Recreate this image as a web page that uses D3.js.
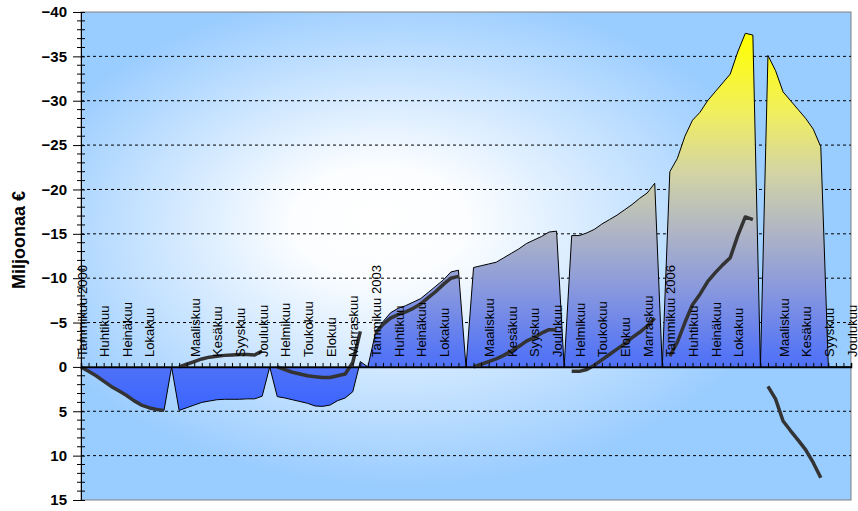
<!DOCTYPE html>
<html>
<head>
<meta charset="utf-8">
<script src="https://cdn.jsdelivr.net/npm/d3@7/dist/d3.min.js"></script>
<style>
  body { margin: 0; background: #fff; }
  text { font-family: Arial, "Liberation Sans", sans-serif; }
</style>
</head>
<body>
<div id="chart"></div>
<script>
// month names and years of the category axis
const months = ["Tammikuu", "Helmikuu", "Maaliskuu", "Huhtikuu", "Toukokuu", "Kesäkuu",
                "Heinäkuu", "Elokuu", "Syyskuu", "Lokakuu", "Marraskuu", "Joulukuu"];
const years = [2000, 2001, 2002, 2003, 2004, 2005, 2006, 2007];

// area series, one row per year (million €, negative drawn upward)
const areaByYear = [
  [0, 0.5, 1.0, 1.6, 2.2, 2.7, 3.2, 3.8, 4.3, 4.6, 4.8, 4.9],
  [4.9, 4.6, 4.3, 4.0, 3.85, 3.7, 3.65, 3.65, 3.65, 3.6, 3.6, 3.3],
  [3.35, 3.5, 3.7, 3.9, 4.1, 4.4, 4.45, 4.3, 3.8, 3.5, 2.8, -0.6],
  [-3.8, -5.1, -6.1, -6.6, -6.9, -7.3, -7.7, -8.4, -9.1, -9.8, -10.7, -10.9],
  [-11.2, -11.4, -11.6, -11.8, -12.3, -12.8, -13.3, -13.9, -14.3, -14.7, -15.2, -15.3],
  [-14.8, -14.8, -15.1, -15.5, -16.1, -16.6, -17.1, -17.7, -18.3, -19.0, -19.6, -20.7],
  [-22.0, -23.5, -26.0, -27.8, -28.7, -30.0, -31.0, -32.0, -33.0, -35.5, -37.6, -37.4],
  [-35.1, -33.4, -31.0, -30.0, -29.0, -28.0, -26.8, -24.8]
];

// line series, one row per year
const lineByYear = [
  [0, 0.5, 1.0, 1.6, 2.2, 2.7, 3.2, 3.8, 4.3, 4.6, 4.8, 4.9],
  [0, -0.3, -0.6, -0.9, -1.1, -1.2, -1.3, -1.35, -1.4, -1.4, -1.35, -1.8],
  [0, 0.3, 0.6, 0.8, 1.0, 1.1, 1.2, 1.2, 1.0, 0.8, -0.5, -4.0],
  [-3.8, -4.8, -5.5, -5.9, -6.2, -6.6, -7.1, -7.8, -8.5, -9.3, -10.0, -10.2],
  [0, -0.3, -0.6, -0.9, -1.3, -1.8, -2.3, -2.9, -3.3, -3.8, -4.2, -4.2],
  [0.5, 0.5, 0.3, -0.2, -0.8, -1.4, -2.0, -2.6, -3.3, -3.9, -4.6, -5.5],
  [-1.2, -2.8, -5.0, -7.0, -8.2, -9.6, -10.6, -11.5, -12.3, -14.8, -16.9, -16.6],
  [2.2, 3.6, 6.1, 7.2, 8.25, 9.35, 10.8, 12.5]
];

const yTicks = [-40, -35, -30, -25, -20, -15, -10, -5, 0, 5, 10, 15];

// build the category list: 12 months per year plus an empty gap slot between years
const data = [];
years.forEach((yr, yi) => {
  months.forEach((m, mi) => {
    data.push({
      label: mi === 0 ? m + " " + yr : m,
      area: areaByYear[yi][mi] ?? 0,
      line: lineByYear[yi][mi] ?? null
    });
  });
  if (yi < years.length - 1) data.push({ label: "", area: 0, line: null });
});

const W = 858, H = 511;
const margin = { top: 12, right: 7, bottom: 11, left: 81 };

const svg = d3.select("#chart").append("svg")
  .attr("width", W)
  .attr("height", H);

const x = d3.scaleLinear().domain([0, data.length - 1]).range([margin.left, W - margin.right]);
const y = d3.scaleLinear().domain([-40, 15]).range([margin.top, H - margin.bottom]);

const defs = svg.append("defs");

// plot background, light in the middle, blue at the edges
const bg = defs.append("radialGradient")
  .attr("id", "bg")
  .attr("cx", 0.42).attr("cy", 0.47).attr("r", 0.58)
  .attr("fx", 0.38).attr("fy", 0.42);
bg.append("stop").attr("offset", "0").attr("stop-color", "#ffffff");
bg.append("stop").attr("offset", "0.2").attr("stop-color", "#fbfdff");
bg.append("stop").attr("offset", "0.88").attr("stop-color", "#99ccff");
bg.append("stop").attr("offset", "1").attr("stop-color", "#99ccff");

// area fill, yellow at the top to blue at the bottom
const fill = defs.append("linearGradient")
  .attr("id", "areaFill")
  .attr("gradientUnits", "userSpaceOnUse")
  .attr("x1", 0).attr("x2", 0)
  .attr("y1", y(-37.6)).attr("y2", y(5));
[[0, "#ffff00"], [0.2, "#f2f05a"], [0.37, "#d2d4a4"], [0.52, "#b0b6c4"],
 [0.68, "#8898de"], [0.85, "#5575f5"], [1, "#3a64ff"]]
  .forEach(s => fill.append("stop").attr("offset", s[0]).attr("stop-color", s[1]));

const pw = W - margin.left - margin.right;
const ph = H - margin.top - margin.bottom;

svg.append("rect")
  .attr("x", margin.left).attr("y", margin.top)
  .attr("width", pw).attr("height", ph)
  .attr("fill", "url(#bg)")
  .attr("stroke", "#808080")
  .attr("stroke-width", 1);

// dashed gridlines
svg.append("g")
  .selectAll("line")
  .data(yTicks.filter(v => v !== 0 && v !== -40 && v !== 15))
  .join("line")
  .attr("x1", margin.left).attr("x2", W - margin.right)
  .attr("y1", d => y(d)).attr("y2", d => y(d))
  .attr("stroke", "#000")
  .attr("stroke-width", 1)
  .attr("stroke-dasharray", "3,3");

// area series
const area = d3.area()
  .x((d, i) => x(i))
  .y0(y(0))
  .y1(d => y(d.area));

svg.append("path")
  .datum(data)
  .attr("d", area)
  .attr("fill", "url(#areaFill)")
  .attr("stroke", "#000")
  .attr("stroke-width", 1)
  .attr("stroke-linejoin", "round");

// line series
const line = d3.line()
  .defined(d => d.line !== null)
  .x((d, i) => x(i))
  .y(d => y(d.line));

svg.append("path")
  .datum(data)
  .attr("d", line)
  .attr("fill", "none")
  .attr("stroke", "#333333")
  .attr("stroke-width", 3.5)
  .attr("stroke-linejoin", "round");

// y axis
const yAxis = svg.append("g")
  .attr("transform", "translate(" + margin.left + ",0)")
  .call(d3.axisLeft(y).tickValues(yTicks).tickSize(8).tickPadding(6));
yAxis.select(".domain").attr("stroke", "#000");
yAxis.selectAll(".tick line").attr("x1", 4);
yAxis.selectAll(".tick text")
  .attr("font-size", 15)
  .attr("font-weight", "bold")
  .attr("fill", "#000");

// minor ticks every 1
svg.append("g")
  .selectAll("line")
  .data(d3.range(-40, 16, 1).filter(v => v % 5 !== 0))
  .join("line")
  .attr("x1", margin.left - 4).attr("x2", margin.left + 4)
  .attr("y1", d => y(d)).attr("y2", d => y(d))
  .attr("stroke", "#000");

// category axis on the zero line
const xAxis = svg.append("g")
  .attr("transform", "translate(0," + y(0) + ")")
  .call(d3.axisTop(x).tickValues(d3.range(data.length)).tickSize(4).tickFormat(""));
xAxis.select(".domain").attr("stroke", "#000").attr("stroke-width", 1.5);

// rotated month labels, every third category
svg.append("g")
  .selectAll("text")
  .data(data.map((d, i) => ({ i, label: d.label })).filter(d => d.i % 3 === 0))
  .join("text")
  .attr("transform", d => "translate(" + (x(d.i) + 5.5) + "," + (y(0) - 10) + ") rotate(-90)")
  .attr("font-size", 13)
  .attr("fill", "#000")
  .text(d => d.label);

// axis title
svg.append("text")
  .attr("transform", "translate(25,240) rotate(-90)")
  .attr("text-anchor", "middle")
  .attr("font-size", 18)
  .attr("font-weight", "bold")
  .text("Miljoonaa €");
</script>
</body>
</html>
